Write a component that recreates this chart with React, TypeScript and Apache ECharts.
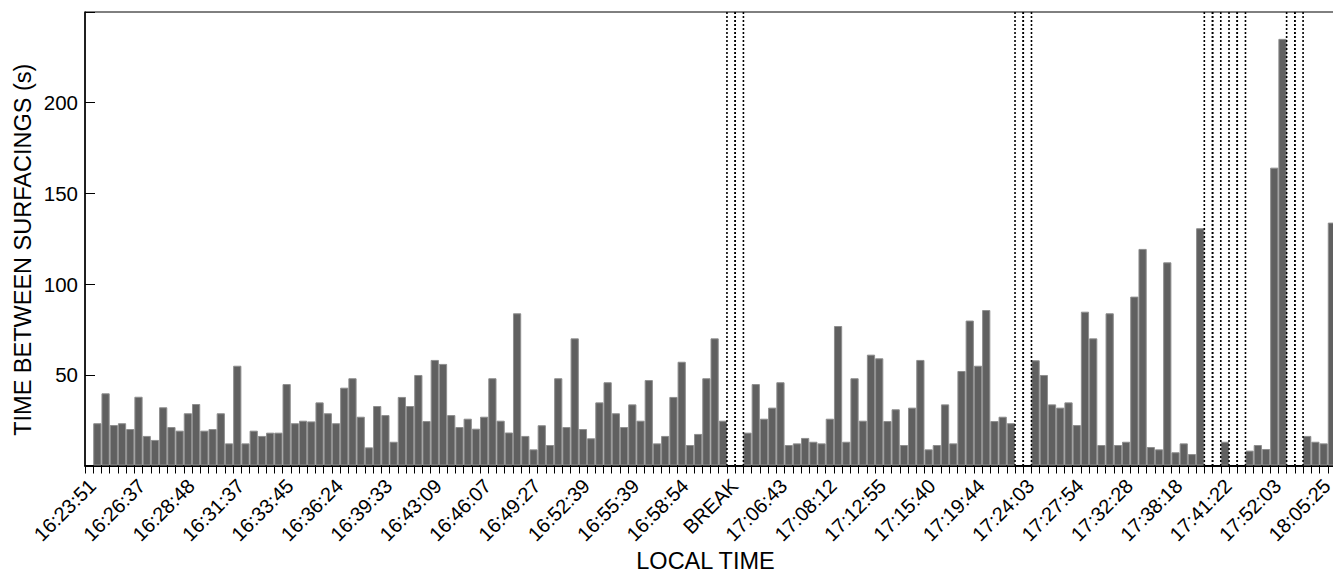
import React, { useEffect, useRef } from 'react';
import * as echarts from 'echarts';

// Tick labels: one every LABEL_STEP slots, starting at FIRST_LABEL_SLOT
const tickLabels = [
  '16:23:51', '16:26:37', '16:28:48', '16:31:37', '16:33:45', '16:36:24',
  '16:39:33', '16:43:09', '16:46:07', '16:49:27', '16:52:39', '16:55:39',
  '16:58:54', 'BREAK', '17:06:43', '17:08:12', '17:12:55', '17:15:40',
  '17:19:44', '17:24:03', '17:27:54', '17:32:28', '17:38:18', '17:41:22',
  '17:52:03', '18:05:25',
];
const LABEL_STEP = 6;
const FIRST_LABEL_SLOT = 1;

// Time between surfacings (s), one value per slot (null = no bar)
const intervals: (number | null)[] = [
  null,
  23.3, 39.8, 22.3, 23.3, 20.1, 37.9, 16.3, 14.1, 32.1, 21.2,
  19.2, 28.8, 33.9, 19.2, 20.1, 28.8, 12.2, 55.0, 12.2, 19.2,
  16.3, 18.1, 18.1, 44.9, 23.3, 24.7, 24.3, 34.8, 28.8, 23.3,
  42.9, 48.1, 26.9, 10.0, 32.8, 27.8, 13.1, 37.8, 32.8, 49.9,
  24.5, 58.2, 56.0, 27.8, 21.2, 25.8, 20.3, 26.9, 48.1, 24.7,
  18.2, 83.9, 16.3, 8.9, 22.2, 11.3, 48.1, 21.2, 70.1, 20.1,
  15.0, 34.8, 45.9, 28.8, 21.2, 33.7, 24.7, 47.1, 12.2, 16.3,
  37.8, 57.2, 11.3, 17.4, 48.1, 70.1, 24.7, null, null, 18.1,
  44.9, 25.8, 31.9, 45.9, 11.3, 12.2, 15.2, 13.1, 12.2, 25.8,
  76.9, 13.1, 48.1, 24.7, 61.1, 59.1, 24.5, 31.0, 11.3, 31.9,
  58.2, 8.9, 11.3, 33.7, 12.2, 52.1, 79.9, 55.0, 85.7, 24.5,
  26.9, 23.3, null, null, 58.0, 49.9, 33.7, 31.9, 34.8, 22.3,
  84.8, 70.1, 11.3, 83.9, 11.3, 13.1, 93.1, 119.4, 10.2, 8.9,
  112.0, 7.3, 12.2, 6.3, 130.8, null, null, 13.1, null, null,
  8.2, 11.3, 9.1, 164.2, 235.2, null, null, 16.3, 13.1, 12.2, 133.9,
];

// Slots that are recording breaks (drawn as dotted full-height boundaries)
const breakSlots = [78, 79, 113, 114, 136, 137, 139, 140, 146, 147];

const Y_MIN = 0;
const Y_MAX = 250;
const Y_STEP = 50;

const FONT = "'Liberation Sans', Arial, Helvetica, sans-serif";

const isLabelSlot = (i: number) =>
  i >= FIRST_LABEL_SLOT && (i - FIRST_LABEL_SLOT) % LABEL_STEP === 0;

const categories = intervals.map((_, i) =>
  isLabelSlot(i) ? tickLabels[(i - FIRST_LABEL_SLOT) / LABEL_STEP] : `slot-${i}`
);

export default function App() {
  const ref = useRef<HTMLDivElement>(null);

  useEffect(() => {
    if (!ref.current) return;
    const chart = echarts.init(ref.current, undefined, { renderer: 'svg' });

    const option: any = {
      animation: false,
      backgroundColor: '#ffffff',
      grid: {
        left: 85,
        right: 0,
        top: 12,
        bottom: 107.5,
        show: true,
        borderColor: '#000',
        borderWidth: 1,
        containLabel: false,
        outerBoundsMode: 'none',
      },
      xAxis: {
        type: 'category',
        data: categories,
        boundaryGap: true,
        name: 'LOCAL TIME',
        nameLocation: 'middle',
        nameGap: 83,
        nameMoveOverlap: false,
        nameTextStyle: {
          fontFamily: FONT,
          fontSize: 23.5,
          color: '#000',
          padding: [0, 10, 0, 0],
        },
        axisLine: { show: true, lineStyle: { color: '#000', width: 2 } },
        axisTick: {
          show: true,
          interval: 0,
          alignWithLabel: false,
          inside: false,
          length: 8,
          lineStyle: { color: '#000', width: 1 },
        },
        axisLabel: {
          interval: (index: number) => isLabelSlot(index),
          rotate: 45,
          margin: 12,
          padding: [0, 7, 0, 0],
          fontFamily: FONT,
          fontSize: 20,
          color: '#000',
        },
        splitLine: { show: false },
      },
      yAxis: {
        type: 'value',
        min: Y_MIN,
        max: Y_MAX,
        interval: Y_STEP,
        name: 'TIME BETWEEN SURFACINGS (s)',
        nameLocation: 'middle',
        nameGap: 50,
        nameMoveOverlap: false,
        nameTextStyle: {
          fontFamily: FONT,
          fontSize: 23.5,
          color: '#000',
          padding: [0, 22, 0, 0],
        },
        axisLine: { show: true, lineStyle: { color: '#000', width: 1.5 } },
        axisTick: {
          show: true,
          inside: true,
          length: 10,
          lineStyle: { color: '#000', width: 1 },
        },
        axisLabel: {
          margin: 7,
          fontFamily: FONT,
          fontSize: 20.5,
          color: '#000',
          formatter: (v: number) => (v === Y_MIN || v === Y_MAX ? '' : String(v)),
        },
        splitLine: { show: false },
      },
      series: [
        {
          type: 'bar',
          data: intervals.map((v) => (v === null ? '-' : v)),
          barCategoryGap: '0%',
          itemStyle: {
            color: '#606060',
            borderColor: '#8e8e8e',
            borderWidth: 1,
          },
          silent: true,
          z: 2,
        },
        {
          type: 'custom',
          data: breakSlots.map((i) => [i, 0]),
          encode: { x: 0, y: 1 },
          silent: true,
          z: 5,
          renderItem: (_params: any, api: any) => {
            const idx = api.value(0);
            const bottom = api.coord([idx, Y_MIN]);
            const top = api.coord([idx, Y_MAX]);
            const w = api.size([1, 0])[0];
            const xs = [bottom[0] - w / 2, bottom[0] + w / 2];
            return {
              type: 'group',
              children: xs.map((x) => ({
                type: 'line',
                shape: { x1: x, y1: top[1], x2: x, y2: bottom[1] },
                style: { stroke: '#000', lineWidth: 1.6, lineDash: [2, 2] },
              })),
            };
          },
        },
      ],
    };

    chart.setOption(option);
    return () => chart.dispose();
  }, []);

  return (
    <div
      style={{
        position: 'absolute',
        left: 0,
        top: 0,
        width: 1333,
        height: 573,
        overflow: 'hidden',
      }}
    >
      <div ref={ref} style={{ width: 1336, height: 573 }} />
    </div>
  );
}
